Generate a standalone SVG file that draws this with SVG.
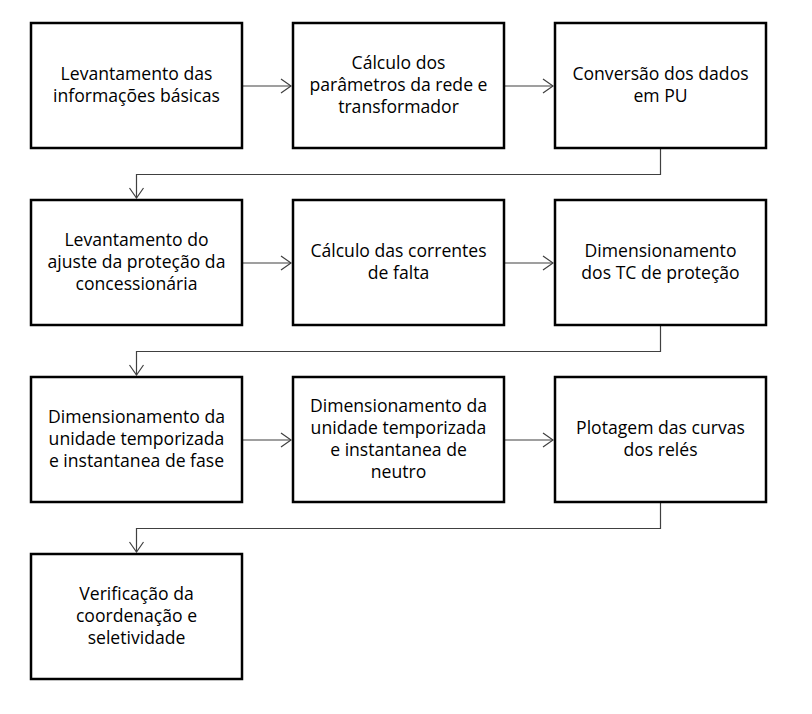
<svg xmlns="http://www.w3.org/2000/svg" width="812" height="714" viewBox="0 0 812 714">
<style>
.box{fill:#fff;stroke:#000;stroke-width:2.5}
.t{font-family:"Open Sans","Liberation Sans",sans-serif;font-size:17.6px;fill:#000;text-anchor:middle}
.c{fill:none;stroke:#404040;stroke-width:1.2}
</style>
<defs>
<marker id="ah" markerWidth="12" markerHeight="16" refX="11" refY="8" orient="auto" markerUnits="userSpaceOnUse">
<path d="M1,1 L11,8 L1,15" fill="none" stroke="#404040" stroke-width="1.2"/>
</marker>
</defs>
<rect width="812" height="714" fill="#fff"/>
<g id="connectors">
<line class="c" x1="243" y1="86" x2="291" y2="86" marker-end="url(#ah)"/>
<line class="c" x1="505" y1="86" x2="553" y2="86" marker-end="url(#ah)"/>
<polyline class="c" points="660.5,149 660.5,174.5 136.5,174.5 136.5,198" marker-end="url(#ah)"/>
<line class="c" x1="243" y1="263" x2="291" y2="263" marker-end="url(#ah)"/>
<line class="c" x1="505" y1="263" x2="553" y2="263" marker-end="url(#ah)"/>
<polyline class="c" points="660.5,326 660.5,351.5 136.5,351.5 136.5,375" marker-end="url(#ah)"/>
<line class="c" x1="243" y1="440" x2="291" y2="440" marker-end="url(#ah)"/>
<line class="c" x1="505" y1="440" x2="553" y2="440" marker-end="url(#ah)"/>
<polyline class="c" points="660.5,503 660.5,528.5 136.5,528.5 136.5,552" marker-end="url(#ah)"/>
</g>
<g id="n1"><rect class="box" x="31" y="23" width="211" height="125"/>
<text class="t" x="136.5" y="79.5">Levantamento das</text><text class="t" x="136.5" y="101.5">informações básicas</text></g>
<g id="n2"><rect class="box" x="293" y="23" width="211" height="125"/>
<text class="t" x="398.5" y="68.5">Cálculo dos</text><text class="t" x="398.5" y="90.5">parâmetros da rede e</text><text class="t" x="398.5" y="112.5">transformador</text></g>
<g id="n3"><rect class="box" x="555" y="23" width="211" height="125"/>
<text class="t" x="660.5" y="79.5">Conversão dos dados</text><text class="t" x="660.5" y="101.5">em PU</text></g>
<g id="n4"><rect class="box" x="31" y="200" width="211" height="125"/>
<text class="t" x="136.5" y="245.5">Levantamento do</text><text class="t" x="136.5" y="267.5">ajuste da proteção da</text><text class="t" x="136.5" y="289.5">concessionária</text></g>
<g id="n5"><rect class="box" x="293" y="200" width="211" height="125"/>
<text class="t" x="398.5" y="256.5">Cálculo das correntes</text><text class="t" x="398.5" y="278.5">de falta</text></g>
<g id="n6"><rect class="box" x="555" y="200" width="211" height="125"/>
<text class="t" x="660.5" y="256.5">Dimensionamento</text><text class="t" x="660.5" y="278.5">dos TC de proteção</text></g>
<g id="n7"><rect class="box" x="31" y="377" width="211" height="125"/>
<text class="t" x="136.5" y="422.5">Dimensionamento da</text><text class="t" x="136.5" y="444.5">unidade temporizada</text><text class="t" x="136.5" y="466.5">e instantanea de fase</text></g>
<g id="n8"><rect class="box" x="293" y="377" width="211" height="125"/>
<text class="t" x="398.5" y="411.5">Dimensionamento da</text><text class="t" x="398.5" y="433.5">unidade temporizada</text><text class="t" x="398.5" y="455.5">e instantanea de</text><text class="t" x="398.5" y="477.5">neutro</text></g>
<g id="n9"><rect class="box" x="555" y="377" width="211" height="125"/>
<text class="t" x="660.5" y="433.5">Plotagem das curvas</text><text class="t" x="660.5" y="455.5">dos relés</text></g>
<g id="n10"><rect class="box" x="31" y="554" width="211" height="125"/>
<text class="t" x="136.5" y="599.5">Verificação da</text><text class="t" x="136.5" y="621.5">coordenação e</text><text class="t" x="136.5" y="643.5">seletividade</text></g>
</svg>
